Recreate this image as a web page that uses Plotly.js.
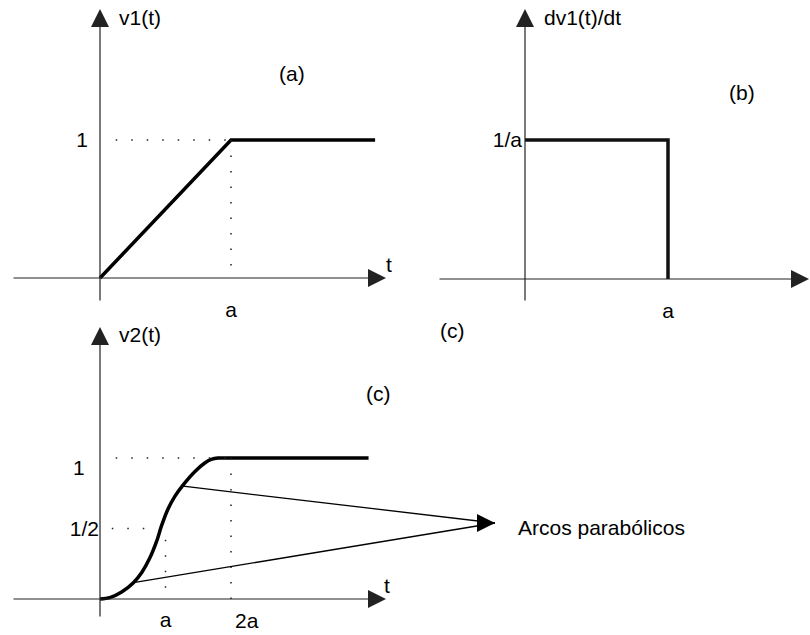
<!DOCTYPE html>
<html>
<head>
<meta charset="utf-8">
<script src="https://cdn.plot.ly/plotly-3.0.1.min.js"></script>
<style>html,body{margin:0;padding:0;background:#fff}#chart{width:810px;height:635px}</style>
</head>
<body>
<div id="chart"></div>
<script>
// ---- Data (time in units of a, amplitude in units of 1 or 1/a) ----
const tA = [0, 1, 2.1];
const vA = [0, 1, 1];
const tB = [0, 1, 1];
const vB = [1, 1, 0];
const tC = [0, 0.15, 0.33, 0.51, 0.64, 0.76, 0.865, 0.94, 1.04, 1.145, 1.27, 1.45, 1.6, 1.7, 1.8, 1.92, 4.1];
const vC = [0, 0.01, 0.05, 0.116, 0.19, 0.29, 0.41, 0.52, 0.64, 0.73, 0.81, 0.905, 0.965, 0.99, 1.0, 1.0, 1.0];
// dotted guide lines
const guideA_t = [[0.12, 1], [1, 1]];
const guideA_v = [[1, 1], [1, 0]];
const guideC_t = [[0.24, 2], [2, 2], [0.18, 0.7], [1, 1]];
const guideC_v = [[1, 1], [1, 0], [0.5, 0.5], [0.42, 0]];
// pointers to "Arcos parabólicos"
const pointerFrom_t = [0.534, 1.27];
const pointerFrom_v = [0.118, 0.80];
const pointerTip = [6.03, 0.539];
// tick labels
const tickA_x = [1], tickA_xText = ['a'];
const tickA_y = [1], tickA_yText = ['1'];
const tickB_x = [1], tickB_xText = ['a'];
const tickB_y = [1], tickB_yText = ['1/a'];
const tickC_x = [1], tickC_xText = ['a'];
const tickC_y = [0.5], tickC_yText = ['1/2'];

// ---- Layout geometry (pixels) ----
const W = 810, H = 635;
const FONT = 'Liberation Sans, Arial, sans-serif';
const FS = 21;
const frames = {
  A: {x0: 12, x1: 392, y0: 5, y1: 302, ox: 100, oy: 278, ux: 131, uy: 138, hTail: 12, hTip: 386, vTip: 9, vTail: 302},
  B: {x0: 438, x1: 810, y0: 5, y1: 302, ox: 525, oy: 279, ux: 143, uy: 139, hTail: 438, hTip: 809, vTip: 9, vTail: 302},
  C: {x0: 12, x1: 505, y0: 322, y1: 618, ox: 100, oy: 599, ux: 65.5, uy: 141, hTail: 12, hTip: 386, vTip: 327, vTail: 618}
};
function dx(f, px) { return (px - f.ox) / f.ux; }
function dy(f, py) { return (f.oy - py) / f.uy; }
function xDomain(f) { return [f.x0 / W, f.x1 / W]; }
function yDomain(f) { return [1 - f.y1 / H, 1 - f.y0 / H]; }
function xRange(f) { return [dx(f, f.x0), dx(f, f.x1)]; }
function yRange(f) { return [dy(f, f.y1), dy(f, f.y0)]; }

const traces = [];
const bold = {color: '#000', width: 3.5};
traces.push({x: tA, y: vA, xaxis: 'x', yaxis: 'y', mode: 'lines', line: bold, hoverinfo: 'skip'});
traces.push({x: tB, y: vB, xaxis: 'x2', yaxis: 'y2', mode: 'lines', line: Object.assign({}, bold, {color: '#111'}), hoverinfo: 'skip'});
traces.push({x: tC, y: vC, xaxis: 'x3', yaxis: 'y3', mode: 'lines', line: {color: '#000', width: 3.5, shape: 'spline', smoothing: 0.8}, hoverinfo: 'skip'});
const dotted = {color: '#222', width: 1.5, dash: '1.5px,14px'};
guideA_t.forEach((t, i) => traces.push({x: t, y: guideA_v[i], xaxis: 'x', yaxis: 'y', mode: 'lines', line: dotted, hoverinfo: 'skip'}));
guideC_t.forEach((t, i) => traces.push({x: t, y: guideC_v[i], xaxis: 'x3', yaxis: 'y3', mode: 'lines', line: dotted, hoverinfo: 'skip'}));
pointerFrom_t.forEach((t, i) => traces.push({x: [t, pointerTip[0]], y: [pointerFrom_v[i], pointerTip[1]], xaxis: 'x3', yaxis: 'y3', mode: 'lines', line: {color: '#000', width: 1.3}, hoverinfo: 'skip'}));

function axisPair(f, tx, txt, ty, tyt, xsoff, ysoff) {
  const xa = {domain: xDomain(f), range: xRange(f), anchor: 'free', position: 1 - f.oy / H,
    showgrid: false, zeroline: false, showline: false, ticks: '', tickvals: tx, ticktext: txt,
    ticklabelstandoff: xsoff, tickfont: {family: FONT, size: FS, color: '#000'}, fixedrange: true};
  const ya = {domain: yDomain(f), range: yRange(f), anchor: 'free', position: f.ox / W,
    showgrid: false, zeroline: false, showline: false, ticks: '', tickvals: ty, ticktext: tyt,
    ticklabelstandoff: ysoff, tickfont: {family: FONT, size: FS, color: '#000'}, fixedrange: true};
  return [xa, ya];
}
const [xa1, ya1] = axisPair(frames.A, tickA_x, tickA_xText, tickA_y, tickA_yText, 17, 12);
const [xa2, ya2] = axisPair(frames.B, tickB_x, tickB_xText, tickB_y, tickB_yText, 17, 3);
const [xa3, ya3] = axisPair(frames.C, tickC_x, tickC_xText, tickC_y, tickC_yText, 6, 1);

const ann = [];
const headStyle = {text: '', showarrow: true, arrowhead: 2, arrowsize: 3, arrowwidth: 1.2, arrowcolor: '#222', standoff: 0};
function axisArrows(f, xr, yr) {
  ann.push(Object.assign({xref: xr, yref: yr, axref: xr, ayref: yr, x: dx(f, f.hTip), y: 0, ax: dx(f, f.hTail), ay: 0}, headStyle));
  ann.push(Object.assign({xref: xr, yref: yr, axref: xr, ayref: yr, x: 0, y: dy(f, f.vTip), ax: 0, ay: dy(f, f.vTail)}, headStyle));
}
axisArrows(frames.A, 'x', 'y');
axisArrows(frames.B, 'x2', 'y2');
axisArrows(frames.C, 'x3', 'y3');
// pointer arrowhead
ann.push(Object.assign({xref: 'x3', yref: 'y3', axref: 'x3', ayref: 'y3', x: pointerTip[0], y: pointerTip[1],
  ax: pointerTip[0] - 0.2, ay: pointerTip[1]}, headStyle, {arrowcolor: '#000'}));

function label(text, px, py, xanchor) {
  ann.push({xref: 'paper', yref: 'paper', x: px / W, y: 1 - py / H, text: text, showarrow: false,
    xanchor: xanchor || 'center', yanchor: 'middle', font: {family: FONT, size: FS, color: '#000'}});
}
label('v1(t)', 140, 18);
label('(a)', 292, 73);
label('t', 389, 265);
label('dv1(t)/dt', 582, 18);
label('(b)', 742, 93);
label('(c)', 452, 330);
label('v2(t)', 140, 335);
label('(c)', 378, 393);
label('t', 387, 585);
label('1', 79, 467);
label('2a', 247, 620);
label('Arcos parabólicos', 516, 527, 'left');

const layout = {
  width: W, height: H, margin: {l: 0, r: 0, t: 0, b: 0},
  paper_bgcolor: '#fff', plot_bgcolor: 'rgba(0,0,0,0)', showlegend: false,
  xaxis: xa1, yaxis: ya1, xaxis2: xa2, yaxis2: ya2, xaxis3: xa3, yaxis3: ya3,
  annotations: ann, font: {family: FONT, size: FS, color: '#000'}
};
Plotly.newPlot('chart', traces, layout, {displayModeBar: false, staticPlot: true});
</script>
</body>
</html>
